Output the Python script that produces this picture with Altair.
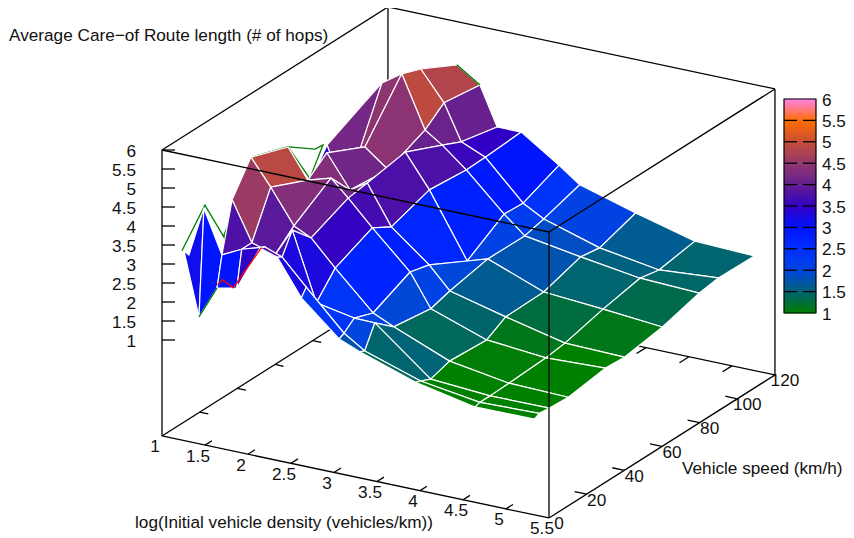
import altair as alt
import pandas as pd

# ---- data ----
x_vals = [1.186, 1.36, 1.57, 1.80, 2.07, 2.27, 2.55, 2.99, 3.23, 3.88, 4.57, 5.26]
y_vals = [3.2, 5.8, 11.2, 21.2, 40.9, 51, 71.2, 90.8, 100.9, 120]
N = None
z_cols = [
    [3.33, 3.14, N, N, N, N, N, N, N, N],
    [1.68, 4.46, N, N, N, 2.50, 4.07, 4.56, N, N],
    [2.54, 3.33, 4.61, 5.42, 5.07, 3.76, 2.88, 5.19, 4.56, 4.09],
    [2.65, 3.59, 3.59, 4.74, 4.31, 4.71, 4.23, 5.54, 5.35, 4.86],
    [3.83, 3.78, 3.40, 3.85, 4.49, 3.86, 3.76, 4.19, 4.59, 4.46],
    [3.69, 3.61, 4.15, 3.63, 4.06, 4.14, 4.32, 3.89, 3.66, 3.45],
    [2.75, 2.95, 2.37, 2.97, 3.41, 3.12, 3.46, 3.37, 3.39, 3.45],
    [1.88, 1.95, 2.18, 2.00, 2.46, 2.33, 1.80, 2.42, 2.39, 2.79],
    [1.66, 1.60, 2.17, 1.75, 1.61, 1.76, 1.97, 1.96, 2.09, 2.39],
    [1.17, 1.12, 1.00, 1.16, 1.10, 1.39, 1.41, 1.72, 1.64, 1.96],
    [0.85, 0.89, 0.89, 0.91, 0.96, 1.03, 1.29, 1.49, 1.39, 1.55],
    [0.86, 0.93, 0.90, 0.87, 1.02, 0.99, 1.15, 1.43, 1.51, 1.49],
]
rim_back_a = [(1.186, 2.1, 3.37), (1.186, 14.3, 4.19), (1.186, 26, 2.85), (1.186, 24.4, 3.09),
              (1.186, 34, 3.89), (1.186, 39.3, 4.67), (1.186, 58.4, 4.34), (1.186, 70.6, 3.08)]
rim_back_b = [(1.186, 58.4, 4.34), (1.186, 72.8, 3.83), (1.186, 77, 3.81), (1.186, 70.1, 3.15)]
rim_front_a = [(1.80, 120, 4.86), (2.07, 120, 4.46)]
rim_front_b = [(1.36, 3.2, 1.68), (1.57, 3.2, 2.54)]
red_edge = [(1.574, 3.2, 2.63), (1.632, 3.2, 2.79), (1.76, 3.2, 2.64), (2.086, 3.2, 3.85)]

x_ticks = [1, 1.5, 2, 2.5, 3, 3.5, 4, 4.5, 5, 5.5]
y_ticks = [0, 20, 40, 60, 80, 100, 120]
z_ticks = [1, 1.5, 2, 2.5, 3, 3.5, 4, 4.5, 5, 5.5, 6]
Z_MIN = -1.526
X0, X1, Y0, Y1, Z1 = 1, 5.5, 0, 120, 6
title_text = "Average Care\u2212of Route length (# of hops)"
x_title = "log(Initial vehicle density (vehicles/km))"
y_title = "Vehicle speed (km/h)"
palette_stops = [
    (1.0, (0, 128, 0)), (1.25, (0, 110, 55)), (1.5, (0, 100, 115)), (1.75, (0, 85, 170)),
    (2.0, (0, 68, 225)), (2.5, (0, 48, 255)), (3.0, (0, 20, 255)), (3.5, (50, 0, 195)),
    (4.0, (100, 30, 145)), (4.5, (145, 55, 110)), (5.0, (198, 78, 55)), (5.5, (255, 110, 0)),
    (6.0, (255, 130, 230)),
]
FONT_SIZE = 17.2
TEXT_DY = 1.5


def colour(z):
    z = min(6.0, max(1.0, z))
    for (a, ca), (b, cb) in zip(palette_stops, palette_stops[1:]):
        if z <= b:
            t = (z - a) / (b - a)
            return "#%02x%02x%02x" % tuple(round(p + (q - p) * t) for p, q in zip(ca, cb))
    return "#ff82e6"


def px(x, y):
    return 162 + 86 * (x - 1) + 1.883 * y


def py(x, y, z):
    return 150 + 18.22 * (x - 1) - 1.192 * y + 38 * (6 - z)


# surface cells, back to front
cells = []
qid = 0
for i in range(len(x_vals) - 1):
    for j in range(len(y_vals) - 2, -1, -1):
        corners = [(i, j), (i, j + 1), (i + 1, j + 1), (i + 1, j), (i, j)]
        zs = [z_cols[a][b] for a, b in corners]
        if any(v is None for v in zs):
            continue
        col = colour(sum(zs[:4]) / 4)
        for k, (a, b) in enumerate(corners):
            cells.append(dict(q=qid, k=k, px=px(x_vals[a], y_vals[b]),
                              py=py(x_vals[a], y_vals[b], z_cols[a][b]), col=col))
        qid += 1
cells = pd.DataFrame(cells)

X = alt.Scale(domain=[8, 846], nice=False, zero=False)
Y = alt.Scale(domain=[538, 8], nice=False, zero=False)
ex = alt.X("px:Q", scale=X, axis=None)
ey = alt.Y("py:Q", scale=Y, axis=None)


def seg(a, b, c, d):
    return dict(px=a, py=b, px2=c, py2=d)


def corner(x, y, z):
    return px(x, y), py(x, y, z)


def rules(rows, width=1.3, colr="#000000"):
    return alt.Chart(pd.DataFrame(rows)).mark_rule(strokeWidth=width, color=colr).encode(
        x=ex, y=ey, x2="px2:Q", y2="py2:Q")


def polyline(series, colr, width=1.3):
    rows = []
    for s, pts in enumerate(series):
        for k, (x, y, z) in enumerate(pts):
            rows.append(dict(s=s, k=k, px=px(x, y), py=py(x, y, z)))
    return alt.Chart(pd.DataFrame(rows)).mark_line(color=colr, strokeWidth=width).encode(
        x=ex, y=ey, detail="s:N", order="k:Q")


def labels(rows, align="center", size=FONT_SIZE):
    return alt.Chart(pd.DataFrame(rows)).mark_text(
        align=align, baseline="middle", font="Liberation Sans", fontSize=size, color="#111111",
        dy=TEXT_DY
    ).encode(x=ex, y=ey, text="t:N")


# box edges behind the surface
back = [
    seg(*corner(X0, Y0, Z_MIN), *corner(X0, Y1, Z_MIN)),
    seg(*corner(X0, Y1, Z_MIN), *corner(X1, Y1, Z_MIN)),
    seg(*corner(X0, Y1, Z_MIN), *corner(X0, Y1, Z1)),
    seg(*corner(X0, Y0, Z1), *corner(X0, Y1, Z1)),
    seg(*corner(X0, Y1, Z1), *corner(X1, Y1, Z1)),
    seg(*corner(X1, Y1, Z_MIN), *corner(X1, Y1, Z1)),
]
for t in x_ticks[1:-1]:
    back.append(seg(*corner(t, Y1, Z_MIN), *corner(t, Y1 - 5, Z_MIN)))
for t in y_ticks[1:-1]:
    back.append(seg(*corner(X0, t, Z_MIN), *corner(X0 + 0.1, t, Z_MIN)))

# box edges in front of the surface
front = [
    seg(*corner(X0, Y0, Z_MIN), *corner(X1, Y0, Z_MIN)),
    seg(*corner(X1, Y0, Z_MIN), *corner(X1, Y1, Z_MIN)),
    seg(*corner(X0, Y0, Z1), *corner(X1, Y0, Z1)),
    seg(*corner(X1, Y0, Z1), *corner(X1, Y1, Z1)),
    seg(*corner(X0, Y0, Z_MIN), *corner(X0, Y0, Z1)),
    seg(*corner(X1, Y0, Z_MIN), *corner(X1, Y0, Z1)),
]
for t in x_ticks[1:-1]:
    front.append(seg(*corner(t, Y0, Z_MIN), *corner(t, Y0 + 3.7, Z_MIN)))
for t in y_ticks[1:-1]:
    front.append(seg(*corner(X1, t, Z_MIN), *corner(X1 - 0.14, t, Z_MIN)))
for t in z_ticks:
    a, b = corner(X0, Y0, t)
    front.append(seg(a, b, a + 13, b))

x_lab = [dict(px=px(t, Y0) - 7, py=py(t, Y0, Z_MIN) + 10, t=f"{t:g}") for t in x_ticks]
y_lab = [dict(px=px(X1, t) + 10, py=py(X1, t, Z_MIN) + 5, t=f"{t:g}") for t in y_ticks]
z_lab = [dict(px=136, py=py(X0, Y0, t), t=f"{t:g}") for t in z_ticks]
titles = [
    dict(px=9, py=34, t=title_text),
    dict(px=135, py=521, t=x_title),
    dict(px=682, py=467, t=y_title),
]

# colour scale
CB_L, CB_R, CB_T, CB_B = 784, 816, 99, 313


def cb_y(z):
    return CB_B - (z - 1) * (CB_B - CB_T) / 5


levels = [1 + k * 0.05 for k in range(100)]
cb = pd.DataFrame([dict(px=CB_L, px2=CB_R, py=cb_y(z) + 0.4, py2=cb_y(z + 0.05) - 0.4,
                        col=colour(z + 0.025)) for z in levels])
cb_layer = alt.Chart(cb).mark_rect().encode(
    x=ex, x2="px2:Q", y=ey, y2="py2:Q", fill=alt.Fill("col:N", scale=None))
cb_frame = alt.Chart(pd.DataFrame([dict(px=CB_L, px2=CB_R, py=CB_B, py2=CB_T)])).mark_rect(
    fill=None, stroke="#000000", strokeWidth=1.2
).encode(x=ex, x2="px2:Q", y=ey, y2="py2:Q")
cb_ticks = []
for t in z_ticks[1:-1]:
    cb_ticks.append(seg(CB_L, cb_y(t), CB_L + 13, cb_y(t)))
    cb_ticks.append(seg(CB_R - 13, cb_y(t), CB_R, cb_y(t)))
cb_lab = [dict(px=CB_R + 6, py=cb_y(t), t=f"{t:g}") for t in z_ticks]

surface = alt.Chart(cells).mark_line(
    stroke="#ffffff", strokeWidth=1.2, strokeJoin="round"
).encode(x=ex, y=ey, detail="q:N", order="k:Q", fill=alt.Fill("col:N", scale=None))

chart = alt.layer(
    rules(back),
    polyline([rim_back_a, rim_back_b], "#008000"),
    surface,
    polyline([rim_front_a, rim_front_b], "#008000"),
    polyline([red_edge], "#ff0000"),
    rules(front),
    cb_layer, cb_frame, rules(cb_ticks),
    labels(x_lab), labels(y_lab), labels(z_lab, align="right"),
    labels(titles, align="left"), labels(cb_lab, align="left"),
).properties(width=838, height=530, padding=0, autosize=alt.AutoSizeParams(type="none")
).configure_view(stroke=None)

chart.save("out.html", embed_options={"renderer": "svg", "actions": False})
